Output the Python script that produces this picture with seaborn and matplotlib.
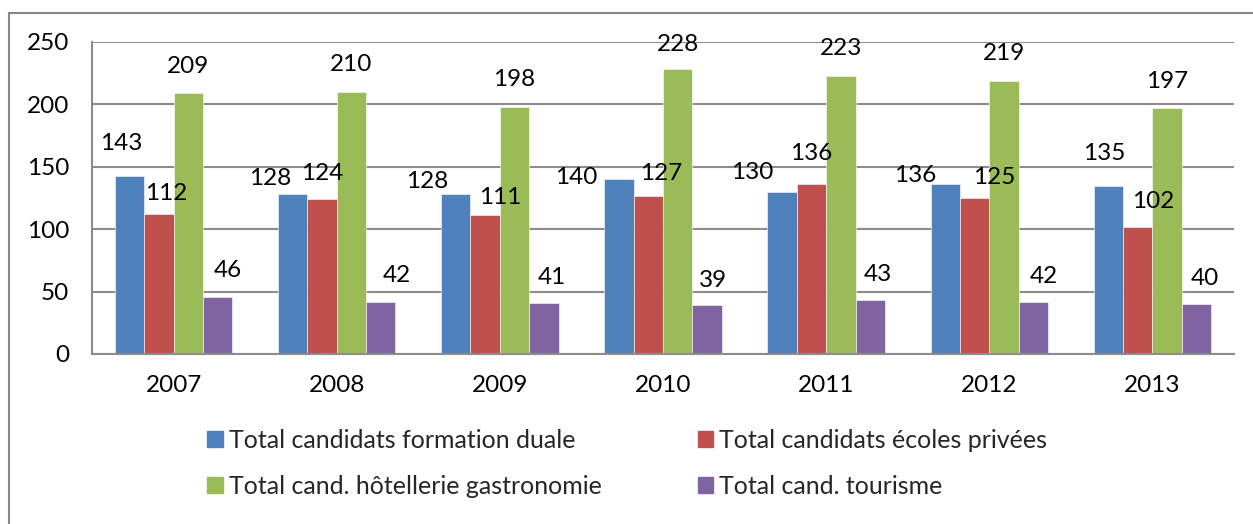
import matplotlib
matplotlib.use('Agg')
import matplotlib.pyplot as plt
from matplotlib.lines import Line2D
import seaborn as sns
import pandas as pd

years = ['2007', '2008', '2009', '2010', '2011', '2012', '2013']
series = ['Total candidats formation duale', 'Total candidats écoles privées',
          'Total cand. hôtellerie gastronomie', 'Total cand. tourisme']
duale = [143, 128, 128, 140, 130, 136, 135]
privees = [112, 124, 111, 127, 136, 125, 102]
hotellerie = [209, 210, 198, 228, 223, 219, 197]
tourisme = [46, 42, 41, 39, 43, 42, 40]
colors = ['#4F81BD', '#C0504D', '#9BBB59', '#8064A2']

# label nudges in pixels (dx, height of label centre above bar top), as in the original
nudge_duale = [(-8, 32), (-22, 16), (-29, 13), (-43, 2), (-30, 19), (-30, 9), (-4, 32)]
nudge_privees = [(7, 21), (0, 26), (15, 18), (13, 22), (0, 31), (20, 20), (15, 25)]
nudge_hotel = [(0, 27), (0, 27), (0, 27), (0, 25), (0, 27), (0, 27), (0, 27)]
nudge_tour = [(10, 26), (16, 26), (8, 25), (6, 25), (8, 26), (11, 25), (8, 26)]
nudges = [nudge_duale, nudge_privees, nudge_hotel, nudge_tour]

rows = []
for name, vals in zip(series, [duale, privees, hotellerie, tourisme]):
    for yr, v in zip(years, vals):
        rows.append({'year': yr, 'serie': name, 'value': v})
df = pd.DataFrame(rows)

sns.set_style('white')
plt.rcParams['font.family'] = ['Lato', 'DejaVu Sans']
fs = 17.5

fig = plt.figure(figsize=(12.53, 5.24), dpi=100)
ax = fig.add_axes([92/1253, 1 - 354/524, (1234 - 92)/1253, (354 - 42)/524])

sns.barplot(data=df, x='year', y='value', hue='serie', palette=colors,
            width=0.72, saturation=1, edgecolor='white', linewidth=0.4, ax=ax)

for cont, nud in zip(ax.containers, nudges):
    for bar, (dx, dy) in zip(cont, nud):
        h = bar.get_height()
        ax.annotate(f'{h:.0f}', (bar.get_x() + bar.get_width() / 2, h),
                    xytext=(dx, dy), textcoords='offset pixels',
                    ha='center', va='center', fontsize=fs, color='black')

ax.set_ylim(0, 250)
ax.set_xlim(-0.5, 6.5)
ax.set_yticks(range(0, 251, 50))
ax.yaxis.grid(True, color='#8c8c8c', linewidth=1.5)
ax.set_axisbelow(True)
ax.set_xlabel('')
ax.set_ylabel('')
for s in ['top', 'right']:
    ax.spines[s].set_visible(False)
for s in ['left', 'bottom']:
    ax.spines[s].set_color('#8c8c8c')
    ax.spines[s].set_linewidth(1.5)
ax.tick_params(axis='y', length=6.5, width=1.5, color='#8c8c8c', labelsize=fs, pad=10,
               labelcolor='black')
ax.tick_params(axis='x', length=0, labelsize=fs, pad=15, labelcolor='black')
ax.set_xticks([i - 0.5 for i in range(8)], minor=True)
ax.tick_params(axis='x', which='minor', length=6, width=1.5, color='#8c8c8c')

handles = [plt.Rectangle((0, 0), 1, 1, color=c) for c in colors]
order = [0, 2, 1, 3]
ax.get_legend().remove()
fig.legend([handles[i] for i in order], [series[i] for i in order],
           loc='upper left', bbox_to_anchor=(207/1253, 1 - 429/524),
           ncol=2, frameon=False, fontsize=18, handlelength=0.62, handleheight=0.62,
           handletextpad=0.25, columnspacing=3.84, labelspacing=0.91,
           borderpad=0, borderaxespad=0)

fig.add_artist(Line2D([9/1253, 1], [1 - 13/524, 1 - 13/524], color='#868686', linewidth=1.5))
fig.add_artist(Line2D([9/1253, 9/1253], [0, 1 - 13/524], color='#868686', linewidth=1.5))

fig.savefig('out.png', dpi=100)
